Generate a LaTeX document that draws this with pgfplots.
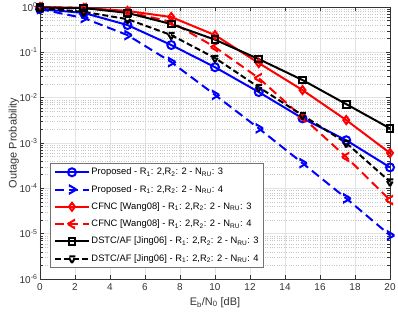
\documentclass[border=0pt]{standalone}
\usepackage{fontspec}
\setmainfont{Liberation Sans}
\usepackage{pgfplots}
\pgfplotsset{compat=1.18}
\definecolor{mblue}{RGB}{0,0,255}
\definecolor{mred}{RGB}{255,0,0}

\begin{document}
\begin{tikzpicture}
\begin{semilogyaxis}[
    scale only axis,
    width=350bp, height=272bp,
    xmin=0, xmax=20,
    ymin=1e-6, ymax=1,
    xtick={0,2,...,20},
    ytick={1e-6,1e-5,1e-4,1e-3,1e-2,1e-1,1},
    yticklabels={10\textsuperscript{-6},10\textsuperscript{-5},10\textsuperscript{-4},10\textsuperscript{-3},10\textsuperscript{-2},10\textsuperscript{-1},10\textsuperscript{0}},
    /pgf/number format/assume math mode=true,
    tick align=inside,
    tick style={black!80, thin},
    ticklabel style={font=\fontsize{10}{12}\selectfont, text=black!80},
    xticklabel style={yshift=-1pt},
    yticklabel style={xshift=1pt},
    grid=both,
    major grid style={gray!22, line width=0.6pt},
    minor y grid style={gray!45, dotted, line width=0.4pt},
    minor x grid style={draw=none},
    axis line style={black!80},
    xlabel={E\textsubscript{b}/N\textsubscript{0} [dB]},
    ylabel={Outage Probability},
    label style={font=\fontsize{11}{13}\selectfont, text=black!80},
    xlabel style={yshift=0pt},
    ylabel style={yshift=-6pt},
    legend cell align=left,
    legend style={at={(0.03,0.04)}, anchor=south west,
        font=\fontsize{9.4}{11.5}\selectfont, draw=black!55, line width=1pt,
        fill=white, row sep=5pt, inner sep=3pt,
        nodes={inner xsep=1.5pt}},
    legend image code/.code={%
        \draw[mark repeat=2, mark phase=2] plot coordinates {(0cm,0cm) (0.6cm,0cm) (1.2cm,0cm)};},
    every axis plot/.append style={line width=2pt, mark size=4pt,
        mark options={solid, fill=white}},
]
% Proposed, N_RU = 3
\addplot[mblue, mark=o] coordinates {
    (0,0.90) (2.5,0.74) (5,0.40) (7.5,0.145) (10,0.047)
    (12.5,0.0133) (15,0.0035) (17.5,0.00115) (20,2.9e-4)
};
\addlegendentry{Proposed - R\textsubscript{1}: 2,R\textsubscript{2}: 2 - N\textsubscript{RU}: 3}
% Proposed, N_RU = 4
\addplot[mblue, dash pattern=on 9pt off 5pt, mark=triangle, mark size=4.5pt, mark options={rotate=-90}] coordinates {
    (0,0.90) (2.5,0.57) (5,0.24) (7.5,0.061) (10,0.0115)
    (12.5,0.0021) (15,3.6e-4) (17.5,6.0e-5) (20,9.2e-6)
};
\addlegendentry{Proposed - R\textsubscript{1}: 2,R\textsubscript{2}: 2 - N\textsubscript{RU}: 4}
% CFNC, N_RU = 3
\addplot[mred, mark=diamond] coordinates {
    (0,1.0) (2.5,0.95) (5,0.82) (7.5,0.60) (10,0.24)
    (12.5,0.058) (15,0.0147) (17.5,0.0032) (20,6.0e-4)
};
\addlegendentry{CFNC [Wang08] - R\textsubscript{1}: 2,R\textsubscript{2}: 2 - N\textsubscript{RU}: 3}
% CFNC, N_RU = 4
\addplot[mred, dash pattern=on 9pt off 5pt, mark=triangle, mark size=4.5pt, mark options={rotate=90}] coordinates {
    (0,1.0) (2.5,0.95) (5,0.78) (7.5,0.47) (10,0.13)
    (12.5,0.027) (15,0.0037) (17.5,4.9e-4) (20,5.5e-5)
};
\addlegendentry{CFNC [Wang08] - R\textsubscript{1}: 2,R\textsubscript{2}: 2 - N\textsubscript{RU}: 4}
% DSTC/AF, N_RU = 3
\addplot[black, mark=square, mark size=3.4pt] coordinates {
    (0,0.97) (2.5,0.95) (5,0.74) (7.5,0.42) (10,0.19)
    (12.5,0.071) (15,0.0245) (17.5,0.0072) (20,0.0021)
};
\addlegendentry{DSTC/AF [Jing06] - R\textsubscript{1}: 2,R\textsubscript{2}: 2 - N\textsubscript{RU}: 3}
% DSTC/AF, N_RU = 4
\addplot[black, dash pattern=on 6pt off 3pt, mark=triangle, mark size=4.5pt, mark options={rotate=180}] coordinates {
    (0,0.95) (2.5,0.78) (5,0.54) (7.5,0.24) (10,0.075)
    (12.5,0.017) (15,0.0041) (17.5,0.001) (20,1.4e-4)
};
\addlegendentry{DSTC/AF [Jing06] - R\textsubscript{1}: 2,R\textsubscript{2}: 2 - N\textsubscript{RU}: 4}
\end{semilogyaxis}
\pgfresetboundingbox
\path (current axis.south west) ++(-40bp,-41bp) coordinate (bbA);
\path (current axis.north east) ++(8bp,7bp) coordinate (bbB);
\path[use as bounding box] (bbA) rectangle (bbB);
\end{tikzpicture}
\end{document}
